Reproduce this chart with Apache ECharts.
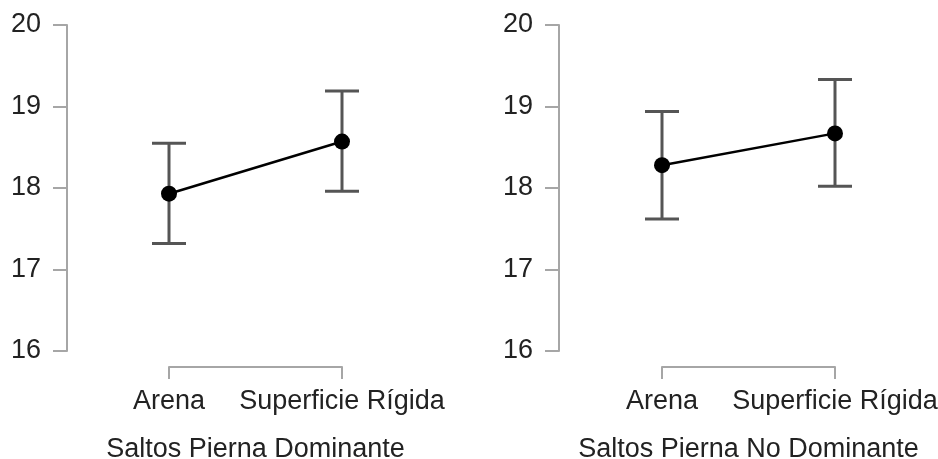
<!DOCTYPE html>
<html>
<head>
<meta charset="utf-8">
<script src="https://cdn.jsdelivr.net/npm/echarts@6/dist/echarts.min.js"></script>
<style>
html,body{margin:0;padding:0;background:#fff;}
#main{width:938px;height:459px;}
</style>
</head>
<body>
<div id="main"></div>
<script>
// superficies
var categories = ["Arena", "Superficie Rígida"];
var yTicks = [16, 17, 18, 19, 20];
var panelTitles = ["Saltos Pierna Dominante", "Saltos Pierna No Dominante"];
// medias y limites del intervalo (pierna dominante / no dominante)
var meanDom = [17.93, 18.57];
var lowDom = [17.32, 17.96];
var highDom = [18.55, 19.19];
var meanNoDom = [18.28, 18.67];
var lowNoDom = [17.62, 18.02];
var highNoDom = [18.94, 19.33];

var axisGray = "#a6a6a6";
var textColor = "#222";
var fontFam = "Liberation Sans, Arial, sans-serif";

var chart = echarts.init(document.getElementById("main"));

function makeGrid(left){
    return { left: left, width: 173, top: 25, height: 326, containLabel: false, outerBoundsMode: "none" };
}
function makeX(idx, title){
    return {
        type: "category",
        gridIndex: idx,
        data: categories,
        boundaryGap: false,
        offset: 16,
        axisLine: { lineStyle: { color: axisGray, width: 2 } },
        axisTick: { length: 12, interval: 0, lineStyle: { color: axisGray, width: 2 } },
        axisLabel: {
            color: textColor, fontSize: 27, fontFamily: fontFam, margin: 21,
            interval: 0, hideOverlap: false, showMinLabel: true, showMaxLabel: true
        },
        splitLine: { show: false },
        name: title,
        nameLocation: "middle",
        nameGap: 69,
        nameTextStyle: { color: textColor, fontSize: 27, fontFamily: fontFam }
    };
}
function makeY(idx, off){
    return {
        type: "value",
        gridIndex: idx,
        min: yTicks[0],
        max: yTicks[yTicks.length - 1],
        interval: 1,
        offset: off,
        axisLine: { show: true, lineStyle: { color: axisGray, width: 2 } },
        axisTick: { show: true, length: 14, lineStyle: { color: axisGray, width: 2 } },
        axisLabel: { color: textColor, fontSize: 27, fontFamily: fontFam, margin: 26 },
        splitLine: { show: false }
    };
}
function errorSeries(idx, low, high){
    var d = [];
    for (var i = 0; i < categories.length; i++) d.push([i, low[i], high[i]]);
    return {
        type: "custom",
        xAxisIndex: idx,
        yAxisIndex: idx,
        data: d,
        z: 1,
        renderItem: function(params, api){
            var x = api.value(0);
            var pLow = api.coord([x, api.value(1)]);
            var pHigh = api.coord([x, api.value(2)]);
            var hw = 17;
            var st = { stroke: "#555", lineWidth: 3 };
            return {
                type: "group",
                children: [
                    { type: "line", shape: { x1: pLow[0], y1: pLow[1], x2: pHigh[0], y2: pHigh[1] }, style: st },
                    { type: "line", shape: { x1: pLow[0] - hw, y1: pLow[1], x2: pLow[0] + hw, y2: pLow[1] }, style: st },
                    { type: "line", shape: { x1: pHigh[0] - hw, y1: pHigh[1], x2: pHigh[0] + hw, y2: pHigh[1] }, style: st }
                ]
            };
        }
    };
}
function meanSeries(idx, vals){
    return {
        type: "line",
        xAxisIndex: idx,
        yAxisIndex: idx,
        data: vals,
        z: 3,
        symbol: "circle",
        symbolSize: 16,
        itemStyle: { color: "#000" },
        lineStyle: { color: "#000", width: 2.5 },
        animation: false
    };
}

var option = {
    backgroundColor: "#fff",
    animation: false,
    grid: [makeGrid(169), makeGrid(662)],
    xAxis: [makeX(0, panelTitles[0]), makeX(1, panelTitles[1])],
    yAxis: [makeY(0, 102), makeY(1, 103)],
    series: [
        errorSeries(0, lowDom, highDom),
        meanSeries(0, meanDom),
        errorSeries(1, lowNoDom, highNoDom),
        meanSeries(1, meanNoDom)
    ]
};
chart.setOption(option, true);
window.onresize = function(){
    chart.resize();
}
</script>
</body>
</html>
